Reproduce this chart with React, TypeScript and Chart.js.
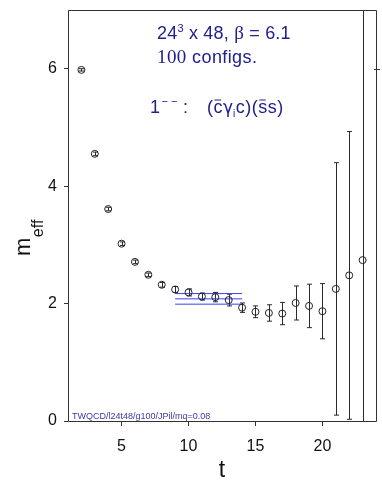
import React, { useEffect, useRef } from "react";
import { Chart, registerables } from "chart.js";
Chart.register(...registerables);

const tValues = [2, 3, 4, 5, 6, 7, 8, 9, 10, 11, 12, 13, 14, 15, 16, 17, 18, 19, 20, 21, 22, 23];
const mEff = [5.98, 4.55, 3.61, 3.02, 2.71, 2.49, 2.32, 2.24, 2.19, 2.12, 2.11, 2.06, 1.93, 1.86, 1.84, 1.83, 2.01, 1.96, 1.87, 2.25, 2.48, 2.74];
const mErr = [0.02, 0.03, 0.03, 0.03, 0.03, 0.03, 0.04, 0.05, 0.06, 0.06, 0.08, 0.1, 0.08, 0.1, 0.14, 0.19, 0.29, 0.37, 0.47, 2.15, 2.45, 6.0];
const fitRange = [9, 14];
const fitCentral = 2.08;
const fitUpper = 2.17;
const fitLower = 1.99;
const xTicks = [5, 10, 15, 20];
const yTicks = [0, 2, 4, 6];

const NAVY = "#20208f";
const SANS = "'Liberation Sans', Arial, sans-serif";
const SERIF = "'Liberation Serif', 'Times New Roman', serif";

type Part = { text: string; font: string; dy?: number; bar?: boolean; gap?: number };

function drawSeq(ctx: CanvasRenderingContext2D, parts: Part[], x: number, y: number, spacing = 0) {
  let cx = x;
  (ctx as any).letterSpacing = spacing + "px";
  for (const p of parts) {
    ctx.font = p.font;
    const w = ctx.measureText(p.text).width;
    ctx.fillText(p.text, cx, y + (p.dy || 0));
    if (p.bar) {
      ctx.save();
      ctx.strokeStyle = ctx.fillStyle as string;
      ctx.lineWidth = 1;
      ctx.beginPath();
      ctx.moveTo(cx + 1, y - 13);
      ctx.lineTo(cx + w - 1.5, y - 13);
      ctx.stroke();
      ctx.restore();
    }
    cx += w + (p.gap || 0);
  }
  (ctx as any).letterSpacing = "0px";
  return cx;
}

const errorBarPlugin = {
  id: "errorBars",
  beforeDatasetsDraw(chart: any) {
    const ctx = chart.ctx as CanvasRenderingContext2D;
    const xs = chart.scales.x;
    const ys = chart.scales.y;
    const { left, right, top, bottom } = chart.chartArea;
    ctx.save();
    ctx.beginPath();
    ctx.rect(left, top, right - left, bottom - top);
    ctx.clip();
    ctx.strokeStyle = "#2a2a2a";
    ctx.lineWidth = 1;
    tValues.forEach((t, i) => {
      const x = Math.round(xs.getPixelForValue(t)) + 0.5;
      const y1 = ys.getPixelForValue(mEff[i] + mErr[i]);
      const y2 = ys.getPixelForValue(mEff[i] - mErr[i]);
      ctx.beginPath();
      ctx.moveTo(x, y1);
      ctx.lineTo(x, y2);
      ctx.moveTo(x - 2.5, y1);
      ctx.lineTo(x + 2.5, y1);
      ctx.moveTo(x - 2.5, y2);
      ctx.lineTo(x + 2.5, y2);
      ctx.stroke();
    });
    ctx.restore();
  },
};

const decorPlugin = {
  id: "decor",
  afterDraw(chart: any) {
    const ctx = chart.ctx as CanvasRenderingContext2D;
    const { left, right, top, bottom } = chart.chartArea;
    const ys = chart.scales.y;
    ctx.save();
    // frame
    ctx.strokeStyle = "#333";
    ctx.lineWidth = 1;
    ctx.beginPath();
    ctx.moveTo(Math.round(left) + 0.5, Math.round(bottom) + 0.5);
    ctx.lineTo(Math.round(left) + 0.5, Math.round(top) + 0.5);
    ctx.lineTo(Math.round(right) + 0.5, Math.round(top) + 0.5);
    ctx.lineTo(Math.round(right) + 0.5, Math.round(bottom) + 0.5);
    ctx.lineTo(Math.round(left) + 0.5, Math.round(bottom) + 0.5);
    ctx.stroke();
    // right-side tick
    const y6 = Math.round(ys.getPixelForValue(6)) + 0.5;
    ctx.beginPath();
    ctx.moveTo(right - 2, y6);
    ctx.lineTo(right + 4, y6);
    ctx.stroke();

    // annotation text
    ctx.fillStyle = NAVY;
    ctx.textBaseline = "alphabetic";
    ctx.textAlign = "left";
    drawSeq(ctx, [
      { text: "24", font: `18px ${SANS}` },
      { text: "3", font: `11px ${SANS}`, dy: -7.5 },
      { text: " x 48, ", font: `18px ${SANS}` },
      { text: "\u03b2", font: `19px ${SERIF}` },
      { text: " = 6.1", font: `18px ${SANS}` },
    ], 157, 39, 0.2);
    drawSeq(ctx, [
      { text: "100", font: `19px ${SERIF}` },
      { text: " configs.", font: `18px ${SANS}` },
    ], 157, 62.5, 0.4);
    drawSeq(ctx, [
      { text: "1", font: `18px ${SANS}`, gap: 1.5 },
      { text: "\u2212 \u2212", font: `11px ${SANS}`, dy: -8.5 },
    ], 150, 113);
    drawSeq(ctx, [{ text: ":", font: `18px ${SANS}` }], 183, 113);
    drawSeq(ctx, [
      { text: "(", font: `18px ${SANS}`, gap: 0.5 },
      { text: "c", font: `18px ${SANS}`, bar: true, gap: 0.5 },
      { text: "\u03b3", font: `17px 'DejaVu Sans', sans-serif` },
      { text: "i", font: `10px ${SANS}`, dy: 4, gap: 0.5 },
      { text: "c", font: `18px ${SANS}`, gap: 0.5 },
      { text: ")", font: `18px ${SANS}`, gap: 0.5 },
      { text: "(", font: `18px ${SANS}`, gap: 0.5 },
      { text: "s", font: `18px ${SANS}`, bar: true, gap: 0.5 },
      { text: "s", font: `18px ${SANS}`, gap: 0.5 },
      { text: ")", font: `18px ${SANS}` },
    ], 207, 113);

    // footer tag
    ctx.fillStyle = "#3a3aa8";
    ctx.font = `9px ${SANS}`;
    ctx.fillText("TWQCD/l24t48/g100/JPil/mq=0.08", 72, 419);

    // axis titles
    ctx.fillStyle = "#111";
    ctx.font = `23px ${SANS}`;
    ctx.textAlign = "center";
    ctx.fillText("t", (left + right) / 2, 476.5);

    ctx.save();
    ctx.translate(29.5, 256);
    ctx.rotate(-Math.PI / 2);
    ctx.textAlign = "left";
    ctx.font = `22px ${SANS}`;
    const mw = ctx.measureText("m").width;
    ctx.fillText("m", 0, 0);
    ctx.font = `16px ${SANS}`;
    ctx.fillText("eff", mw + 0.5, 13);
    ctx.restore();

    ctx.restore();
  },
};

export default function App() {
  const ref = useRef<HTMLCanvasElement | null>(null);
  useEffect(() => {
    if (!ref.current) return;
    const fitLine = (v: number) => ({
      type: "line" as const,
      data: fitRange.map((t) => ({ x: t, y: v })),
      showLine: true,
      borderColor: "#3d3df5",
      borderWidth: 1,
      pointRadius: 0,
      fill: false,
    });
    const chart = new Chart(ref.current, {
      type: "scatter",
      data: {
        datasets: [
          {
            data: tValues.map((t, i) => ({ x: t, y: mEff[i] })),
            pointRadius: 3.5,
            pointBorderColor: "#222",
            pointBackgroundColor: "rgba(0,0,0,0)",
            pointBorderWidth: 1,
            showLine: false,
          } as any,
          fitLine(fitUpper),
          fitLine(fitCentral),
          fitLine(fitLower),
        ],
      },
      options: {
        animation: false,
        responsive: false,
        devicePixelRatio: 1,
        layout: { padding: { left: 8, right: 6, top: 10, bottom: 0 } },
        plugins: { legend: { display: false }, tooltip: { enabled: false } },
        scales: {
          x: {
            type: "linear",
            min: 1,
            max: 24,
            afterBuildTicks: (s: any) => {
              s.ticks = xTicks.map((v) => ({ value: v }));
            },
            afterFit: (s: any) => {
              s.height = 70;
              s.paddingLeft = 0;
              s.paddingRight = 0;
            },
            grid: { drawOnChartArea: false, drawTicks: true, tickLength: 5, color: "#333" },
            border: { display: false },
            ticks: {
              font: { family: SANS, size: 16 },
              color: "#111",
              padding: 11,
              maxRotation: 0,
              autoSkip: false,
            },
          },
          y: {
            type: "linear",
            min: 0,
            max: 7,
            afterBuildTicks: (s: any) => {
              s.ticks = yTicks.map((v) => ({ value: v }));
            },
            afterFit: (s: any) => {
              s.width = 60;
              s.paddingTop = 0;
              s.paddingBottom = 0;
            },
            grid: { drawOnChartArea: false, drawTicks: true, tickLength: 4, color: "#333" },
            border: { display: false },
            ticks: {
              font: { family: SANS, size: 16 },
              color: "#111",
              padding: 7,
              autoSkip: false,
            },
          },
        },
      },
      plugins: [errorBarPlugin, decorPlugin],
    } as any);
    return () => chart.destroy();
  }, []);
  return (
    <div style={{ position: "absolute", left: 0, top: 0, width: 382, height: 491, background: "#fff" }}>
      <canvas ref={ref} width={382} height={491} style={{ display: "block" }} />
    </div>
  );
}
